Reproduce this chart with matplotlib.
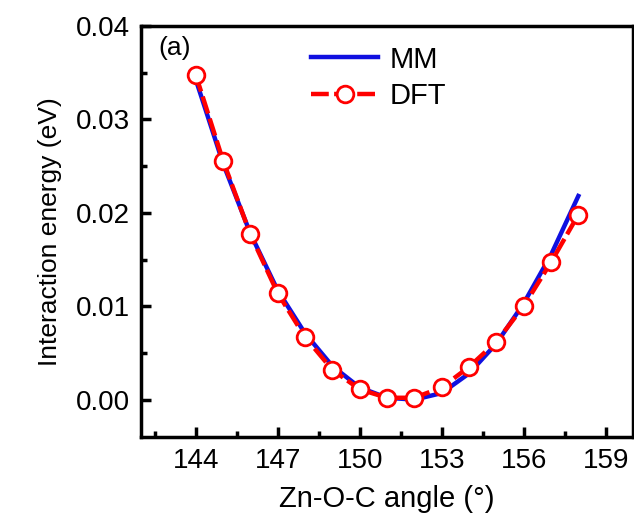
import matplotlib
matplotlib.use("Agg")
import matplotlib.pyplot as plt
import numpy as np
from matplotlib.ticker import MultipleLocator

plt.rcParams['font.family'] = ['Liberation Sans', 'DejaVu Sans']

angle = [144, 145, 146, 147, 148, 149, 150, 151, 152, 153, 154, 155, 156, 157, 158]
dft = [0.0348, 0.0256, 0.0177, 0.0114, 0.0067, 0.0032, 0.0011, 0.0002, 0.0002,
       0.0013, 0.0035, 0.0062, 0.0100, 0.0147, 0.0198]
mm = [0.0343, 0.0253, 0.0178, 0.0117, 0.0071, 0.0036, 0.0013, 0.0002, 0.0000,
      0.0007, 0.0028, 0.0060, 0.0103, 0.0155, 0.0218]

fig = plt.figure(figsize=(6.34, 5.19), dpi=100)
ax = fig.add_axes([141/634, 82/519, 492/634, 411/519])

ax.plot(angle, mm, color='#1010e0', lw=3.2, label='MM', zorder=2)
ax.plot(angle, dft, color='red', lw=3.2, ls=(0, (4, 1.2)), marker='o', ms=12,
        mfc='white', mec='red', mew=2, label='DFT', zorder=3)

ax.set_xlim(142, 160)
ax.set_ylim(-0.004, 0.04)
ax.xaxis.set_major_locator(MultipleLocator(3))
ax.xaxis.set_minor_locator(MultipleLocator(1.5))
ax.yaxis.set_major_locator(MultipleLocator(0.01))
ax.yaxis.set_minor_locator(MultipleLocator(0.005))
ax.yaxis.set_major_formatter(matplotlib.ticker.FormatStrFormatter('%.2f'))

ax.tick_params(which='both', direction='in', width=2.5, labelsize=20, top=False, right=False)
ax.tick_params(which='major', length=7, pad=8)
ax.tick_params(which='minor', length=4)
for s in ax.spines.values():
    s.set_linewidth(2.5)

ax.set_xlabel('Zn-O-C angle (°)', fontsize=21, labelpad=8)
ax.set_ylabel('Interaction energy (eV)', fontsize=19, labelpad=10)

ax.text(0.035, 0.975, '(a)', transform=ax.transAxes, fontsize=19, va='top', ha='left')

ax.legend(loc='upper left', bbox_to_anchor=(0.31, 0.995), frameon=False, fontsize=21,
          handlelength=2.3, handletextpad=0.4, labelspacing=0.3, borderaxespad=0.2)

fig.savefig('out.png', dpi=100)
